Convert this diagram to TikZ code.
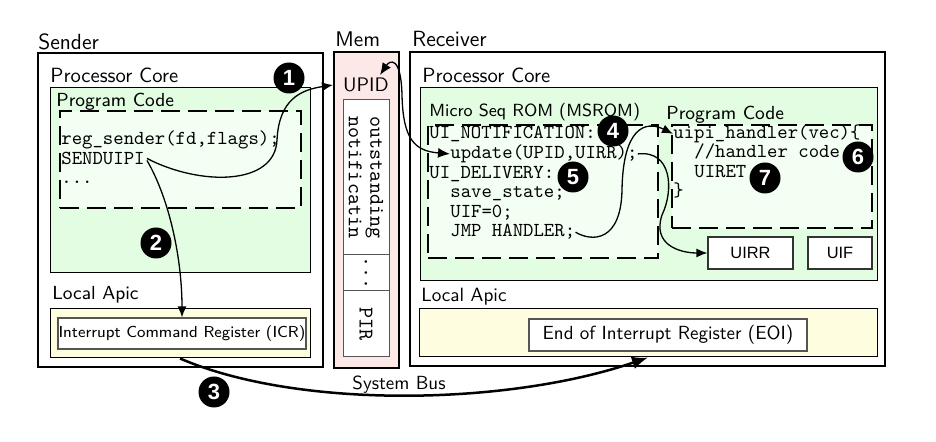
\documentclass[tikz,border=0pt]{standalone}
\usepackage{fontspec}
\newfontfamily\helv{Liberation Sans}
\usetikzlibrary{fit,arrows.meta}
\definecolor{gfill}{RGB}{226,253,226}
\definecolor{gin}{RGB}{244,255,244}
\definecolor{yfill}{RGB}{255,253,224}
\definecolor{pfill}{RGB}{253,232,232}
\definecolor{rgray}{RGB}{85,85,85}
\tikzset{
  outerbox/.style={draw, line width=1pt, inner sep=0pt},
  greenbox/.style={draw, fill=gfill, line width=0.5pt, inner sep=0pt},
  yellowbox/.style={draw, fill=yfill, line width=0.5pt, inner sep=0pt},
  dashbox/.style={draw, fill=gin, line width=0.6pt, dash pattern=on 9.5pt off 4pt, inner sep=0pt},
  regbox/.style={draw=rgray, fill=white, line width=0.6pt, inner sep=0pt},
  cellbox/.style={draw=rgray, fill=white, line width=0.5pt, inner sep=0pt},
  code/.style={font=\fontsize{9.9}{11}\ttfamily, anchor=base west, inner sep=0pt},
  title/.style={font=\fontsize{11}{13}\sffamily, anchor=base west, inner sep=0pt},
  sub/.style={font=\fontsize{10.3}{12}\sffamily, anchor=base west, inner sep=0pt},
  lab/.style={font=\fontsize{9.45}{11}\sffamily, anchor=base west, inner sep=0pt},
  ctext/.style={inner sep=0pt},
  num/.style={circle, fill=black, text=white, inner sep=0pt, minimum size=15.5pt, font=\fontsize{11}{12}\helv\bfseries},
  arr/.style={-{Latex[length=5.5pt,width=4.5pt]}, line width=0.65pt},
  darr/.style={{Latex[length=6pt,width=5pt]}-{Latex[length=6pt,width=5pt]}, line width=0.65pt},
  busarr/.style={-{Latex[length=8pt,width=6.5pt]}, line width=1.25pt},
}
\begin{document}
\begin{tikzpicture}[x=0.5pt,y=-0.5pt]
\useasboundingbox (0,0) rectangle (936,442);

% ---------------- Sender ----------------
\node[title] (sendt) at (38,50) {Sender};
\node[outerbox, fit={(38,53) (323,367)}] (sender) {};
\node[sub] (spc) at (50,83) {Processor Core};
\node[greenbox, fit={(50,88) (310,273)}] (sgreen) {};
\node[dashbox, fit={(60,111) (301,208)}] (sdash) {};
\node[lab] (spcode) at (56,107) {Program Code};
\node[code] (sreg) at (61,145) {reg\_sender(fd,flags);};
\node[code] (snd) at (61,164.5) {SENDUIPI};
\node[code] (sdots) at (61,184) {...};
\node[lab] (sla) at (52,300) {Local Apic};
\node[yellowbox, fit={(50,309) (310,358)}] (syel) {};
\node[regbox, fit={(58,318) (306,349)}] (icr) {};
\node[ctext, font=\fontsize{7.95}{9}\sffamily] (icrt) at (icr.center) {Interrupt Command Register (ICR)};

% ---------------- Mem ----------------
\node[title, font=\fontsize{10.6}{12}\sffamily] (memt) at (335,47) {Mem};
\node[outerbox, fill=pfill, fit={(334,52) (399,368)}] (mem) {};
\node[font=\fontsize{9.8}{11}\sffamily, inner sep=0pt] (upid) at (366,85) {UPID};
\node[cellbox, fit={(343,100) (389,255)}] (cell1) {};
\node[cellbox, fit={(343,255) (389,291)}] (cell2) {};
\node[cellbox, fit={(343,291) (389,357)}] (cell3) {};
\node[rotate=-90, align=center, inner sep=0pt, font=\fontsize{10.5}{10.8}\ttfamily] (outst) at (cell1.center) {outstanding\\notificatin};
\node[rotate=-90, inner sep=0pt, font=\fontsize{10.5}{11}\ttfamily] (mdots) at (cell2.center) {...};
\node[rotate=-90, inner sep=0pt, font=\fontsize{10.5}{11}\ttfamily] (pir) at (cell3.center) {PIR};

% ---------------- Receiver ----------------
\node[title] (rect) at (412,47) {Receiver};
\node[outerbox, fit={(410,52) (885,366)}] (receiver) {};
\node[sub] (rpc) at (422,83) {Processor Core};
\node[greenbox, fit={(420,88) (877,281)}] (rgreen) {};
\node[font=\fontsize{8.8}{10}\sffamily, anchor=base west, inner sep=0pt] (msromt) at (429,117) {Micro Seq ROM (MSROM)};
\node[dashbox, fit={(428,125) (658,258)}] (msrom) {};
\node[lab] (rpcode) at (666,120) {Program Code};
\node[dashbox, fit={(672,125) (872,228)}] (rdash) {};

\node[code] (uin) at (429,139) {UI\_NOTIFICATION:};
\node[code] (upd) at (450,158.6) {update(UPID,UIRR);};
\node[code] (uid) at (429,178.2) {UI\_DELIVERY:};
\node[code] (sav) at (450,197.8) {save\_state;};
\node[code] (uif0) at (450,217.4) {UIF=0;};
\node[code] (jmp) at (450,237) {JMP HANDLER;};

\node[code] (uipi) at (673,138.5) {uipi\_handler(vec)\{};
\node[code] (hcode) at (694,158) {//handler code};
\node[code] (uiret) at (694,177.5) {UIRET};
\node[code] (brace) at (673,197) {\}};

\node[regbox, draw=black!80, fit={(708,237) (793,269)}] (uirr) {};
\node[ctext, font=\fontsize{8.2}{9}\helv] (uirrt) at (uirr.center) {UIRR};
\node[regbox, draw=black!80, fit={(808,237) (872,269)}] (uifb) {};
\node[ctext, font=\fontsize{8.2}{9}\helv] (uift) at (uifb.center) {UIF};

\node[sub, font=\fontsize{9.6}{11}\sffamily] (rla) at (421,302) {Local Apic};
\node[yellowbox, fit={(419,309) (877,357)}] (ryel) {};
\node[regbox, fit={(529,319) (807,351)}] (eoi) {};
\node[ctext, font=\fontsize{9.5}{11}\sffamily] (eoit) at (eoi.center) {End of Interrupt Register (EOI)};

% ---------------- Connectors ----------------
\draw[arr] ([xshift=1pt]snd.east) .. controls (200,186) and (275,186) .. (277,140)
   .. controls (279,100) and (300,90) .. (mem.west |- upid.center);
\draw[arr] ([xshift=1pt,yshift=-1pt]snd.east) .. controls (170,200) and (182,260) .. (icr.north);
\draw[busarr] (syel.south) .. controls (300,410) and (510,405) .. (ryel.south);
\node[font=\fontsize{9.5}{11}\sffamily, inner sep=0pt, anchor=base] (bus) at (399,390) {System Bus};

\coordinate (upidtip) at (380,75);
\draw[darr] (upidtip) .. controls (390,60) and (401,56) .. (402,95)
   .. controls (403,140) and (415,151) .. (upd.west);
\draw[arr] (upd.east) .. controls (672,150) and (674,190) .. (662,215)
   .. controls (652,245) and (680,253) .. (uirr.west);
\draw[arr] (jmp.east) .. controls (592,242) and (621,242) .. (622,190)
   .. controls (623,128) and (645,120) .. (uipi.west);

% ---------------- Numbers ----------------
\node[num] (n1) at (289,78) {1};
\node[num] (n2) at (156,243) {2};
\node[num] (n3) at (214,392) {3};
\node[num] (n4) at (613,131) {4};
\node[num] (n5) at (573,177) {5};
\node[num] (n6) at (858,157) {6};
\node[num] (n7) at (765,178) {7};
\end{tikzpicture}
\end{document}
